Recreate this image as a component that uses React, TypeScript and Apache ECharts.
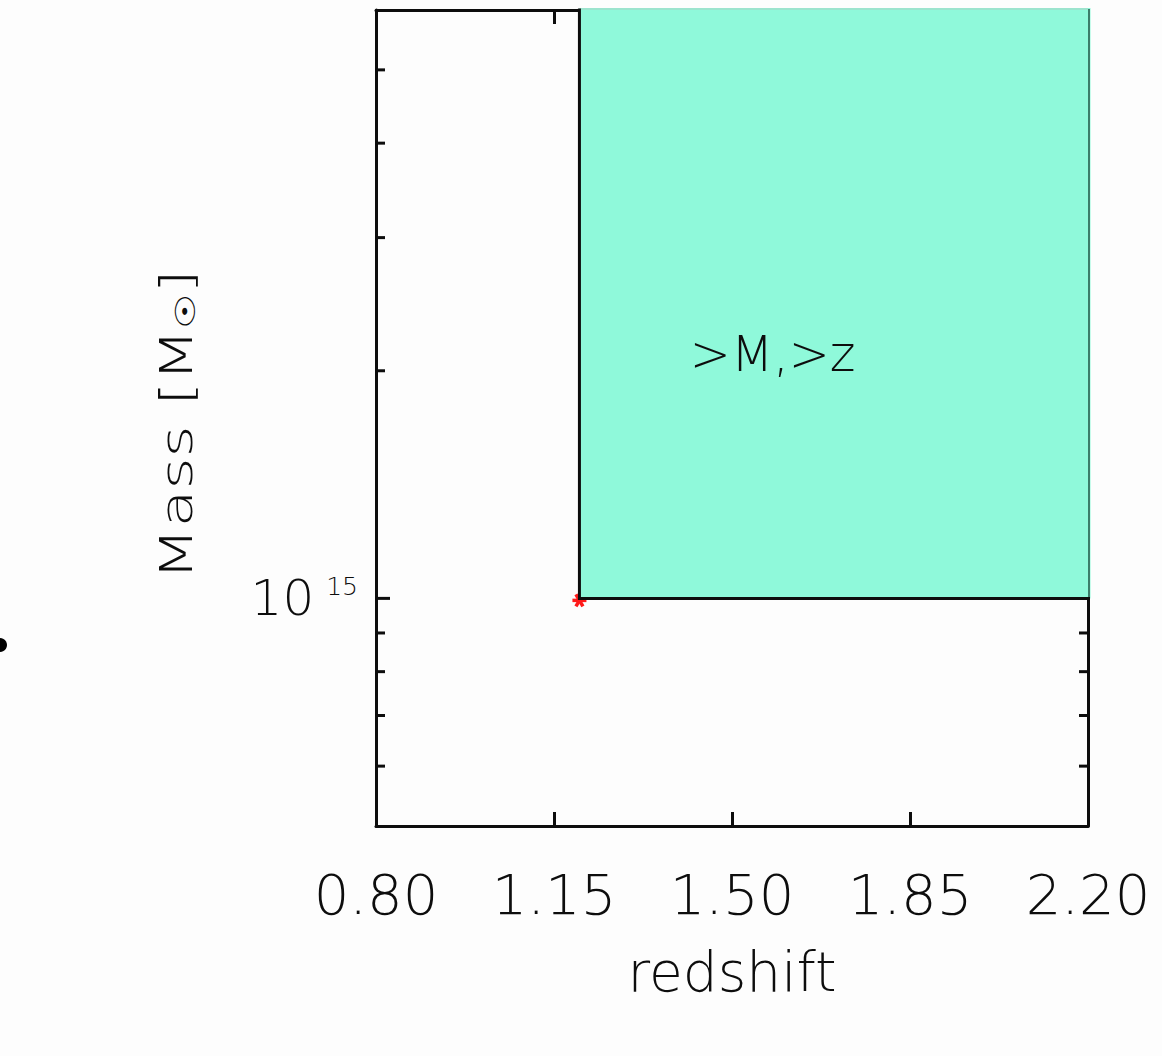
import React, { useEffect, useRef } from "react";
import * as echarts from "echarts";

const xMin = 0.8;
const xMax = 2.2;
const xTicks = [0.8, 1.15, 1.5, 1.85, 2.2];
const yMin = 5e14;
const yMax = 6e15;
const yMajorTicks = [1e15];
const yMinorTicks = [6e14, 7e14, 8e14, 9e14, 2e15, 3e15, 4e15, 5e15];
const regionCorner = [1.2, 1e15];
const markerPoint = [1.2, 1e15];
const annotationText = ">M,>z";
const annotationPos = [1.58, 2.1e15];
const xTitle = "redshift";
const yTitle = "Mass [M{sub|\u2609\uFE0E}]";

const FONT = "DejaVu Sans";
const INK = "#0d0d0d";
const W = 300;

export default function App() {
  const ref = useRef<HTMLDivElement>(null);
  useEffect(() => {
    if (!ref.current) return;
    const chart = echarts.init(ref.current, undefined, { renderer: "svg" });
    const tickData = [
      ...yMajorTicks.map((v) => [xMin, v, 14]),
      ...yMinorTicks.map((v) => [xMin, v, 9]),
    ];
    const option: any = {
      animation: false,
      backgroundColor: "#fdfdfd",
      grid: { left: 376, right: 74, top: 10, bottom: 230, outerBoundsMode: "none" },
      xAxis: [
        {
          type: "value",
          position: "bottom",
          min: xMin,
          max: xMax,
          splitLine: { show: false },
          axisLine: { show: true, lineStyle: { color: INK, width: 3 } },
          axisTick: { show: true, inside: true, length: 14, customValues: xTicks, lineStyle: { color: INK, width: 3 } },
          axisLabel: {
            customValues: xTicks,
            formatter: (v: number) => v.toFixed(2),
            fontFamily: FONT,
            fontWeight: W,
            fontSize: 56,
            color: INK,
            margin: 40,
          },
          name: xTitle,
          nameLocation: "middle",
          nameGap: 118,
          nameTextStyle: { fontFamily: FONT, fontWeight: W, fontSize: 55, color: INK },
        },
        {
          type: "value",
          position: "top",
          min: xMin,
          max: xMax,
          splitLine: { show: false },
          axisLine: { show: true, lineStyle: { color: INK, width: 3 } },
          axisTick: { show: true, inside: true, length: 14, customValues: xTicks, lineStyle: { color: INK, width: 3 } },
          axisLabel: { show: false },
        },
      ],
      yAxis: [
        {
          type: "log",
          logBase: 10,
          position: "left",
          min: yMin,
          max: yMax,
          splitLine: { show: false },
          minorTick: { show: false },
          axisTick: { show: false },
          axisLine: { show: true, lineStyle: { color: INK, width: 3 } },
          axisLabel: {
            margin: 18,
            color: INK,
            fontFamily: FONT,
            formatter: (v: number) =>
              Math.abs(Math.log10(v) - 15) < 1e-6 ? "{base|10}{sup|15}" : "",
            rich: {
              base: { fontFamily: FONT, fontWeight: W, fontSize: 50, color: INK },
              sup: { fontFamily: FONT, fontWeight: W, fontSize: 25, color: INK, verticalAlign: "bottom", padding: [0, 0, 24, 12] },
            },
          },
        },
        {
          type: "log",
          logBase: 10,
          position: "right",
          min: yMin,
          max: yMax,
          splitLine: { show: false },
          axisTick: { show: false },
          axisLine: { show: true, lineStyle: { color: INK, width: 3 } },
          axisLabel: { show: false },
        },
      ],
      series: [
        {
          type: "custom",
          name: "yticks",
          xAxisIndex: 0,
          yAxisIndex: 0,
          data: tickData,
          renderItem: (params: any, api: any) => {
            const v = api.value(1);
            const len = api.value(2);
            const pl = api.coord([xMin, v]);
            const pr = api.coord([xMax, v]);
            return {
              type: "group",
              children: [
                { type: "line", shape: { x1: pl[0], y1: pl[1], x2: pl[0] + len, y2: pl[1] }, style: { stroke: INK, lineWidth: 3 } },
                { type: "line", shape: { x1: pr[0], y1: pr[1], x2: pr[0] - len, y2: pr[1] }, style: { stroke: INK, lineWidth: 3 } },
              ],
            };
          },
        },
        {
          type: "custom",
          name: "marker",
          data: [markerPoint],
          renderItem: (params: any, api: any) => {
            const p = api.coord([api.value(0), api.value(1)]);
            const r = 7;
            const lines = [0, 60, 120].map((deg) => {
              const a = (deg * Math.PI) / 180;
              return {
                type: "line",
                shape: { x1: p[0] - r * Math.cos(a), y1: p[1] + 2 - r * Math.sin(a), x2: p[0] + r * Math.cos(a), y2: p[1] + 2 + r * Math.sin(a) },
                style: { stroke: "#ff1a1a", lineWidth: 3.5 },
              };
            });
            return { type: "group", children: lines };
          },
        },
        {
          type: "custom",
          name: "region",
          data: [regionCorner],
          renderItem: (params: any, api: any) => {
            const z0 = api.value(0);
            const m0 = api.value(1);
            const tl = api.coord([z0, yMax]);
            const br = api.coord([xMax, m0]);
            const tp = api.coord([annotationPos[0], annotationPos[1]]);
            return {
              type: "group",
              children: [
                {
                  type: "rect",
                  shape: { x: tl[0], y: tl[1] - 2, width: br[0] - tl[0] + 2.5, height: br[1] - tl[1] + 2 },
                  style: { fill: "#8ff9da" },
                },
                {
                  type: "line",
                  shape: { x1: tl[0], y1: tl[1] - 1, x2: br[0], y2: tl[1] - 1 },
                  style: { stroke: "#a9cfc2", lineWidth: 1 },
                },
                {
                  type: "line",
                  shape: { x1: br[0] + 1, y1: tl[1] - 1, x2: br[0] + 1, y2: br[1] },
                  style: { stroke: "#3b7d6a", lineWidth: 2 },
                },
                {
                  type: "polyline",
                  shape: { points: [[tl[0], tl[1] - 1.5], [tl[0], br[1]], [br[0] + 2, br[1]]] },
                  style: { stroke: INK, lineWidth: 3, fill: null },
                },
                {
                  type: "text",
                  x: tp[0],
                  y: tp[1],
                  style: { text: annotationText, fontFamily: FONT, fontWeight: W, fontSize: 49, fill: INK, align: "center", verticalAlign: "middle" },
                },
              ],
            };
          },
        },
      ],
      graphic: [
        {
          type: "text",
          x: 177,
          y: 425,
          rotation: Math.PI / 2,
          scaleX: 1.4,
          style: {
            text: yTitle,
            fontFamily: FONT,
            fontWeight: W,
            fontSize: 44,
            fill: INK,
            align: "center",
            verticalAlign: "middle",
            rich: {
              sub: { fontFamily: FONT, fontWeight: 400, fontSize: 28, fill: INK, verticalAlign: "bottom", padding: [16, 0, 0, 0] },
            },
          },
        },
        { type: "circle", shape: { cx: 0, cy: 645, r: 7 }, style: { fill: "#000" } },
      ],
    };
    chart.setOption(option);
    return () => chart.dispose();
  }, []);
  return <div ref={ref} style={{ position: "fixed", left: 0, top: 0, width: 1162, height: 1056 }} />;
}
